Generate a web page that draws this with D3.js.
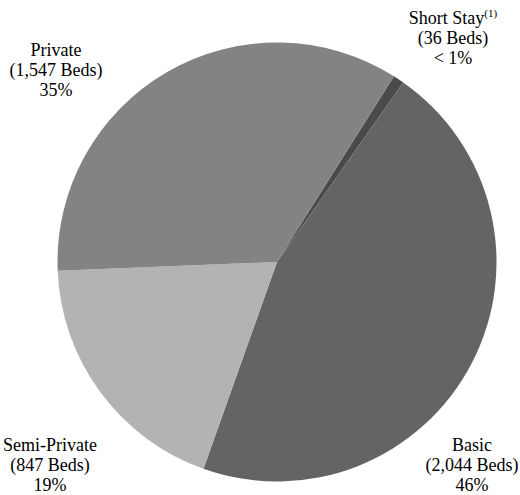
<!DOCTYPE html>
<html><head><meta charset="utf-8">
<script src="https://cdn.jsdelivr.net/npm/d3@7"></script>
<style>body{margin:0;background:#fff}svg{display:block}</style>
</head><body>
<svg id="c" width="520" height="495"></svg>
<script>
const categories = ["Short Stay", "Basic", "Semi-Private", "Private"];
const beds = [36, 2044, 847, 1547];
const bedLabels = ["(36 Beds)", "(2,044 Beds)", "(847 Beds)", "(1,547 Beds)"];
const pctLabels = ["< 1%", "46%", "19%", "35%"];
const colors = ["#4a4a4a", "#646464", "#b3b3b3", "#838383"];

const svg = d3.select("#c");
const cx = 277, cy = 262, r = 219.5;
const startDeg = 32.2;
const pie = d3.pie().sort(null).value(d => d)
  .startAngle(startDeg * Math.PI / 180)
  .endAngle((startDeg + 360) * Math.PI / 180);
const arcs = pie(beds);
const arc = d3.arc().innerRadius(0).outerRadius(r);
const g = svg.append("g").attr("transform", `translate(${cx},${cy})`);
g.selectAll("path").data(arcs).enter().append("path")
  .attr("d", arc).attr("fill", (d, i) => colors[i]);

const labelPos = [[453, 18], [472, 445], [50, 445], [56, 50]];
const lh = 20;
const font = "'Liberation Serif', 'Times New Roman', serif";
categories.forEach((c, i) => {
  const t = svg.append("text").attr("text-anchor", "middle")
    .attr("font-family", font).attr("font-size", 18).attr("fill", "#000");
  t.append("tspan").attr("x", labelPos[i][0]).attr("y", labelPos[i][1]).attr("dy", "0.35em").text(c);
  if (i === 0) {
    t.append("tspan").attr("font-size", 11).attr("dy", "-0.65em").text("(1)");
  }
  svg.append("text").attr("text-anchor", "middle").attr("font-family", font).attr("font-size", 18)
    .attr("x", labelPos[i][0]).attr("y", labelPos[i][1] + lh).attr("dy", "0.35em").text(bedLabels[i]);
  svg.append("text").attr("text-anchor", "middle").attr("font-family", font).attr("font-size", 18)
    .attr("x", labelPos[i][0]).attr("y", labelPos[i][1] + 2 * lh).attr("dy", "0.35em").text(pctLabels[i]);
});
</script>
</body></html>
